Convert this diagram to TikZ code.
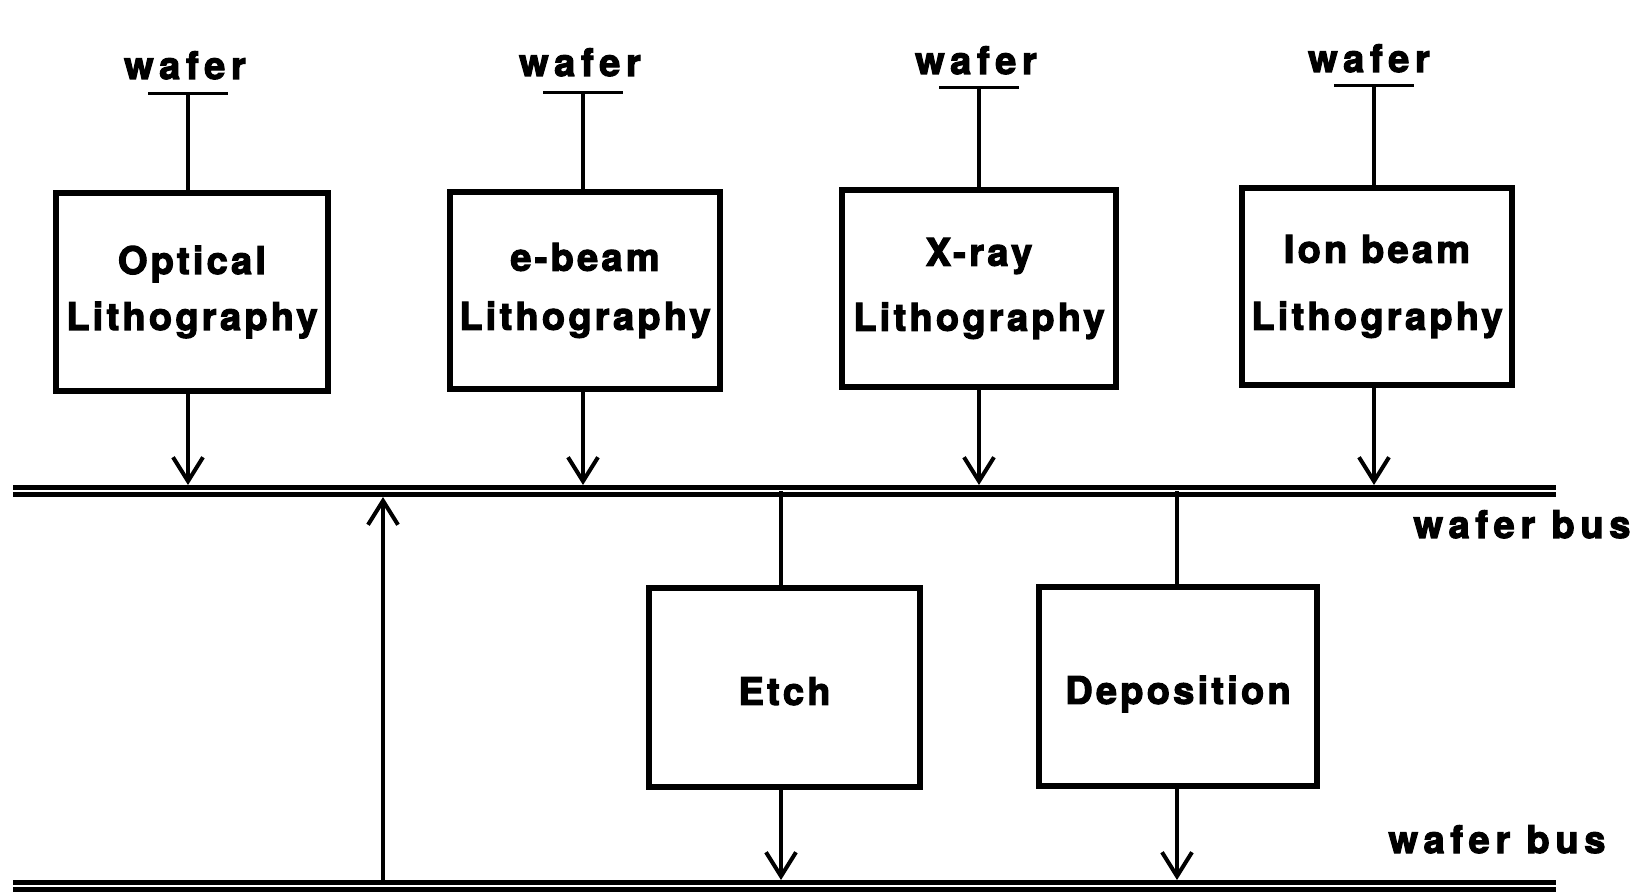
\documentclass[tikz,border=0pt]{standalone}
\usepackage{fontspec}
\setmainfont{TeX Gyre Heros}
\newfontface\boxfont{texgyreheros-bold.otf}[LetterSpace=8.5,FakeBold=3]
\newfontface\labelfont{texgyreheros-bold.otf}[LetterSpace=15,FakeBold=3]
\usetikzlibrary{arrows.meta}

\begin{document}
\begin{tikzpicture}[x=0.5pt,y=-0.5pt,
  stage/.style={draw, line width=3pt, inner sep=0pt, align=center,
    font=\boxfont\fontsize{19}{27}\selectfont},
  oneline/.style={text height=17.4pt, text depth=0pt},
  waferlbl/.style={font=\labelfont\fontsize{19}{22}\selectfont,
    anchor=base, inner sep=0pt},
  tickmark/.style={line width=1.5pt},
  link/.style={line width=2pt},
  flow/.style={line width=2pt,
    -{Straight Barb[length=12pt,width=15pt,line width=2pt]}},
  bus/.style={line width=2.7pt, double, double distance=0.7pt}
]
\useasboundingbox (0,0) rectangle (1649,892);

% lithography stages
\node[stage, minimum width=136pt, minimum height=99pt] (b1) at (192,292) {Optical\\[1pt]Lithography};
\node[stage, minimum width=135pt, minimum height=98.5pt] (b2) at (585,290.5) {e-beam\\[2.5pt]Lithography};
\node[stage, minimum width=137pt, minimum height=98.5pt] (b3) at (979,288.5) {X-ray\\[5.5pt]Lithography};
\node[stage, minimum width=135pt, minimum height=98.5pt] (b4) at (1377,286.5) {Ion beam\\[6.5pt]Lithography};

% processing stages
\node[stage, oneline, minimum width=135.5pt, minimum height=99.5pt] (etch) at (784.5,687.5) {Etch};
\node[stage, oneline, minimum width=139pt, minimum height=99.5pt] (dep) at (1178,686.5) {Deposition};

% wafer inputs
\node[waferlbl] (w1) at (185,79) {wafer};
\node[waferlbl] (w2) at (580,76) {wafer};
\node[waferlbl] (w3) at (976,74) {wafer};
\node[waferlbl] (w4) at (1369,72) {wafer};
\coordinate (t1) at (188,94);
\coordinate (t2) at (583,93);
\coordinate (t3) at (979,88);
\coordinate (t4) at (1374,86);

% buses
\coordinate (busA) at (13,491);
\coordinate (busB) at (1556,491);
\coordinate (busC) at (13,886);
\coordinate (busD) at (1556,886);
\draw[bus] (busA) -- (busB);
\draw[bus] (busC) -- (busD);
\node[waferlbl] (bl1) at (1522,538) {wafer bus};
\node[waferlbl] (bl2) at (1497,853) {wafer bus};

% wafer feeds into each lithography stage and out to the bus
\foreach \i in {1,2,3,4} {
  \draw[tickmark] ([xshift=-20pt]t\i) -- ([xshift=20pt]t\i);
  \draw[link] (t\i) -- (t\i |- b\i.north);
  \draw[flow, shorten >=3pt] (t\i |- b\i.south) -- (t\i |- busA);
}

% etch and deposition taps
\coordinate (e) at (781,491);
\coordinate (d) at (1177,491);
\draw[link] (e) -- (e |- etch.north);
\draw[flow, shorten >=3pt] (e |- etch.south) -- (e |- busC);
\draw[link] (d) -- (d |- dep.north);
\draw[flow, shorten >=3pt] (d |- dep.south) -- (d |- busC);

% return path from lower bus to upper bus
\coordinate (u) at (383,886);
\draw[flow, shorten <=3pt, shorten >=3pt] (u) -- (u |- busA);

\end{tikzpicture}
\end{document}
